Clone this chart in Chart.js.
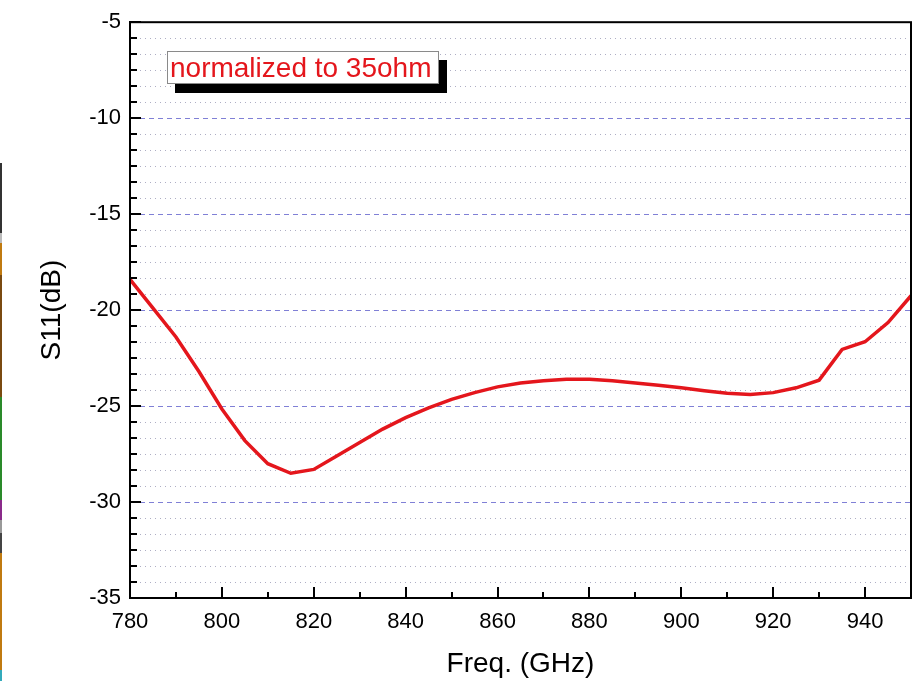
<!DOCTYPE html>
<html>
<head>
<meta charset="utf-8">
<script src="https://cdn.jsdelivr.net/npm/chart.js@4.4.1/dist/chart.umd.min.js"></script>
<style>
  html, body { margin: 0; padding: 0; background: #fff; }
  #wrap { position: relative; width: 917px; height: 681px; }
  #legendBox {
    position: absolute; left: 167px; top: 51px; width: 268px; height: 31px;
    background: #fff; border: 1px solid #8a8a8a; box-shadow: 8px 9px 0 #000;
    color: #e4161c; font-family: "Liberation Sans", Arial, sans-serif; font-size: 28px;
    line-height: 31px; padding-left: 2px; white-space: nowrap; box-sizing: content-box;
  }
  #strip {
    position: absolute; left: 0; top: 163px; width: 2px; height: 518px;
    background: linear-gradient(to bottom, #333 0, #333 70px, #bbb 70px, #bbb 80px, #c07a10 80px, #c07a10 112px,
      #7a4a10 112px, #7a4a10 234px, #2a8a2a 234px, #2a8a2a 337px, #8a2a8a 337px, #8a2a8a 357px,
      #999 357px, #999 370px, #444 370px, #444 390px, #c07a10 390px, #c07a10 507px, #3ab 507px);
  }
</style>
</head>
<body>
<div id="wrap">
  <canvas id="c" width="917" height="681"></canvas>
  <div id="strip"></div>
  <div id="legendBox">normalized to 35ohm</div>
</div>
<script>
// ---- data ----
const freqs = [780, 785, 790, 795, 800, 805, 810, 815, 820, 825, 830, 835, 840, 845, 850, 855, 860, 865, 870, 875, 880, 885, 890, 895, 900, 905, 910, 915, 920, 925, 930, 935, 940, 945, 950];
const s11 = [-18.4, -19.9, -21.4, -23.2, -25.15, -26.8, -28.0, -28.5, -28.3, -27.6, -26.9, -26.2, -25.6, -25.1, -24.65, -24.3, -24.0, -23.8, -23.68, -23.6, -23.6, -23.68, -23.8, -23.92, -24.05, -24.2, -24.33, -24.4, -24.3, -24.05, -23.65, -22.05, -21.65, -20.65, -19.25];
const yMajorTicks = [-35, -30, -25, -20, -15, -10, -5];
const xLabelTicks = [780, 800, 820, 840, 860, 880, 900, 920, 940];
const legendText = "normalized to 35ohm";
document.getElementById('legendBox').textContent = legendText;

const FONT = "'Liberation Sans', Arial, sans-serif";
const isMult = (v, m) => Math.abs(v / m - Math.round(v / m)) < 1e-6;

const frameAndTicks = {
  id: 'frameAndTicks',
  afterDatasetsDraw(chart) {
    const ctx = chart.ctx;
    const a = chart.chartArea;
    const xs = chart.scales.x, ym = chart.scales.yMinor;
    ctx.save();
    ctx.strokeStyle = '#000';
    ctx.lineWidth = 2;
    ym.ticks.forEach(t => {
      const p = Math.round(ym.getPixelForValue(t.value));
      const len = isMult(t.value, 5) ? 11 : 7;
      ctx.beginPath(); ctx.moveTo(a.left, p); ctx.lineTo(a.left + len, p); ctx.stroke();
    });
    xs.ticks.forEach(t => {
      const p = Math.round(xs.getPixelForValue(t.value));
      if (t.value >= 950) return;
      const len = isMult(t.value, 20) ? 11 : 6;
      ctx.beginPath(); ctx.moveTo(p, a.bottom); ctx.lineTo(p, a.bottom - len); ctx.stroke();
    });
    ctx.strokeRect(a.left, a.top, a.right - a.left, a.bottom - a.top);
    ctx.restore();
  }
};

new Chart(document.getElementById('c'), {
  type: 'line',
  data: {
    datasets: [{
      data: freqs.map((f, i) => ({ x: f, y: s11[i] })),
      borderColor: '#e4161c',
      borderWidth: 3.5,
      pointRadius: 0,
      tension: 0,
      fill: false,
      yAxisID: 'y'
    }]
  },
  options: {
    responsive: false,
    animation: false,
    devicePixelRatio: 1,
    layout: { padding: { left: 0, right: 6, top: 20, bottom: 0 } },
    plugins: { legend: { display: false }, tooltip: { enabled: false } },
    scales: {
      x: {
        type: 'linear', min: 780, max: 950,
        afterFit: s => { s.height = 83; s.paddingLeft = 0; s.paddingRight = 0; },
        grid: { display: false, drawOnChartArea: false, drawTicks: false },
        border: { display: true, color: '#000', width: 2 },
        ticks: {
          stepSize: 10, autoSkip: false, maxRotation: 0, padding: 11,
          color: '#000', font: { family: FONT, size: 22 },
          callback: v => (xLabelTicks.includes(v) ? String(v) : '')
        },
        title: { display: true, text: 'Freq. (GHz)', color: '#000', font: { family: FONT, size: 28 }, padding: { top: 0, bottom: 0 } }
      },
      y: {
        type: 'linear', position: 'left', min: -35, max: -5,
        afterFit: s => { s.width = 130; },
        afterBuildTicks: s => { s.ticks = yMajorTicks.map(v => ({ value: v })); },
        grid: {
          drawTicks: false,
          color: ctx => (ctx.tick && (ctx.tick.value === -5 || ctx.tick.value === -35)) ? 'rgba(0,0,0,0)' : '#8080d6',
          lineWidth: 1
        },
        border: { display: true, color: '#000', width: 2, dash: [5, 4] },
        ticks: { padding: 9, color: '#000', font: { family: FONT, size: 22 } },
        title: { display: true, text: 'S11(dB)', color: '#000', font: { family: FONT, size: 28 }, padding: { top: 35, bottom: 0 } }
      },
      yMinor: {
        type: 'linear', position: 'right', min: -35, max: -5,
        afterFit: s => { s.width = 0; s.paddingTop = 0; s.paddingBottom = 0; },
        afterBuildTicks: s => {
          const arr = [];
          for (let k = 0; k <= 36; k++) arr.push({ value: -35 + k * 5 / 6 });
          s.ticks = arr;
        },
        grid: {
          drawTicks: false,
          color: ctx => (ctx.tick && isMult(ctx.tick.value, 5)) ? 'rgba(0,0,0,0)' : '#aeaec4',
          lineWidth: 1
        },
        border: { display: false, dash: [1, 4] },
        ticks: { display: false }
      }
    }
  },
  plugins: [frameAndTicks]
});
</script>
</body>
</html>
